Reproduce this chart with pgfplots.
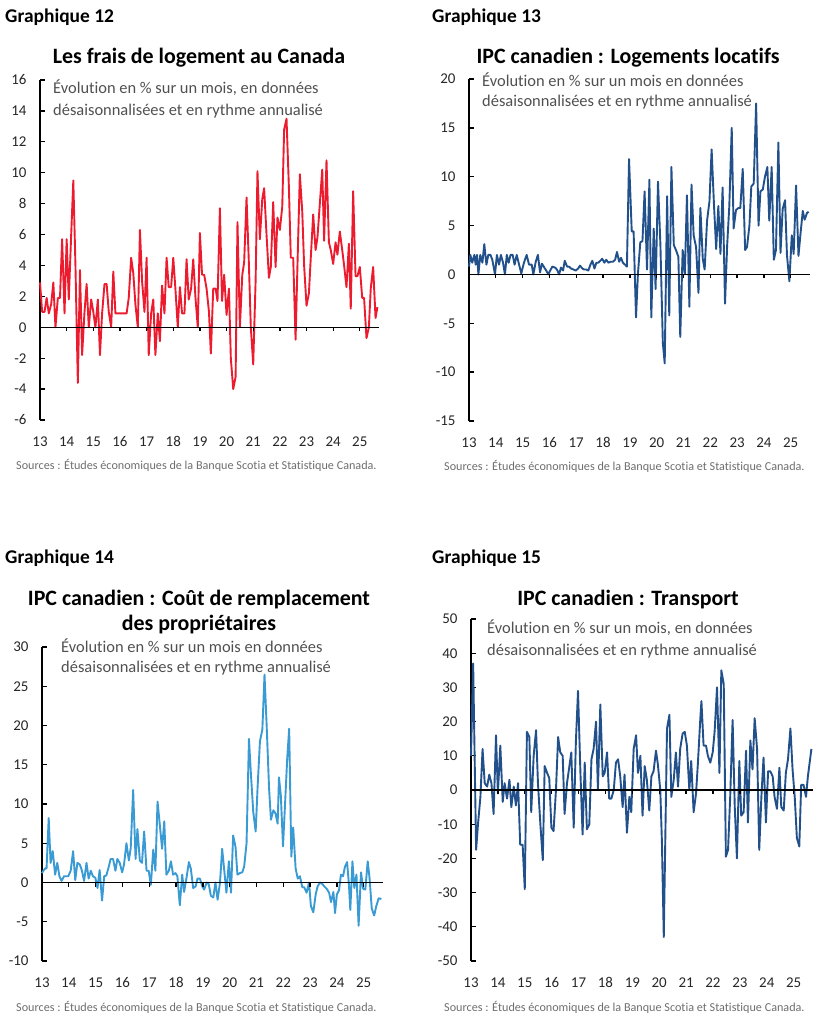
\documentclass[border=0pt]{standalone}
\usepackage{pgfplots}
\pgfplotsset{compat=1.18}
\usepackage{fontspec}
\setmainfont{Carlito}[Ligatures=NoCommon]
\definecolor{sred}{HTML}{EC1C2E}
\definecolor{sdark}{HTML}{22508A}
\definecolor{slight}{HTML}{3A9AD4}
\definecolor{subgray}{HTML}{505050}
\definecolor{srcgray}{HTML}{6E6E6E}
\pgfplotsset{
  panel/.style={
    scale only axis,
    anchor=south west,
    axis lines*=left,
    x axis line style={draw=none},
    y axis line style={line width=1.5bp, black},
    xtick={13,...,25},
    xtick style={draw=none},
    ytick style={line width=1.3bp, black},
    tick align=inside,
    major tick length=5bp,
    /pgf/number format/assume math mode=true,
    ticklabel style={font=\fontsize{15}{16}\selectfont, text=black!85},
    xticklabel style={yshift=-13bp},
    yticklabel style={xshift=-10bp},
    xmin=13, xmax=25.72,
    enlargelimits=false,
    no marks,
    clip=false,
  },
}
\newcommand{\zeroline}{%
  \draw[black, line width=1.5bp] (axis cs:13,0) -- (axis cs:25.72,0);
  \pgfplotsinvokeforeach{14,15,16,17,18,19,20,21,22,23,24,25}{\draw[black, line width=1.3bp] (axis cs:##1,0) -- ++(0pt,-4bp);}%
}
\newcommand{\gfont}{\fontsize{19.5}{22}\selectfont\bfseries}
\newcommand{\tfont}{\fontsize{22}{26}\selectfont\bfseries}
\newcommand{\sfont}{\fontsize{16.5}{20}\selectfont}
\newcommand{\srcfont}{\fontsize{12.2}{14}\selectfont}
\begin{document}
\begin{tikzpicture}
\path[use as bounding box] (0bp,0bp) rectangle (828bp,-1023bp);
% ---------- Panel 12 ----------
\node[anchor=base west, inner sep=0] at (5bp,-22bp) {\gfont Graphique 12};
\node[anchor=base, inner sep=0] at (199bp,-63bp) {\tfont Les frais de logement au Canada};
\begin{axis}[panel, at={(40bp,-420bp)}, width=339bp, height=340bp,
  ymin=-6, ymax=16, ytick={-6,-4,...,16}]
\addplot[sred, line width=1.9bp, line join=round] coordinates {
(13.00,2.9)(13.08,1.0)(13.17,1.0)(13.25,1.9)(13.33,0.9)(13.42,1.5)(13.50,2.9)(13.58,0)
(13.67,1.9)(13.75,1.9)(13.83,5.7)(13.92,0.9)(14.00,5.7)(14.08,1.8)(14.17,6.0)(14.25,9.5)
(14.33,4.0)(14.42,-3.6)(14.50,3.7)(14.58,-1.8)(14.67,1.0)(14.75,2.8)(14.83,0)(14.92,1.8)
(15.00,1.0)(15.08,0)(15.17,1.8)(15.25,-1.8)(15.33,0.9)(15.42,2.8)(15.50,2.8)(15.58,1.0)
(15.67,0)(15.75,3.6)(15.83,0.9)(15.92,0.9)(16.00,0.9)(16.08,0.9)(16.17,0.9)(16.25,0.9)
(16.33,1.9)(16.42,4.5)(16.50,3.5)(16.58,1.5)(16.67,0)(16.75,6.3)(16.83,3.0)(16.92,1.0)
(17.00,4.5)(17.08,-1.8)(17.17,0.9)(17.25,1.8)(17.33,-1.8)(17.42,0.9)(17.50,-0.9)(17.58,2.7)
(17.67,0.9)(17.75,4.5)(17.83,2.6)(17.92,2.6)(18.00,4.5)(18.08,2.5)(18.17,0)(18.25,2.6)
(18.33,0.9)(18.42,0.9)(18.50,4.4)(18.58,1.8)(18.67,2.5)(18.75,4.4)(18.83,2.0)(18.92,0)
(19.00,6.1)(19.08,3.4)(19.16,3.4)(19.25,2.5)(19.34,1.0)(19.41,-1.7)(19.50,2.5)(19.59,2.5)
(19.66,1.7)(19.75,7.7)(19.83,1.7)(19.91,3.4)(20.00,0.8)(20.09,2.5)(20.16,-2.0)(20.25,-4.0)
(20.34,-3.2)(20.41,6.8)(20.50,0)(20.59,3.4)(20.66,4.2)(20.75,8.4)(20.84,4.0)(20.91,0)
(21.00,-2.4)(21.09,3.0)(21.16,10.1)(21.25,5.7)(21.34,8.3)(21.41,9.0)(21.50,6.0)(21.59,3.2)
(21.66,3.9)(21.75,8.1)(21.84,3.9)(21.91,7.1)(22.00,6.3)(22.09,7.8)(22.16,12.8)(22.25,13.5)
(22.34,9.0)(22.41,4.5)(22.50,4.5)(22.59,-0.8)(22.66,4.0)(22.75,9.9)(22.84,7.5)(22.91,4.0)
(23.00,1.4)(23.09,2.2)(23.16,4.5)(23.25,7.3)(23.34,5.0)(23.41,5.8)(23.50,8.0)(23.59,10.2)
(23.66,5.6)(23.75,10.8)(23.84,5.5)(23.91,5.0)(24.00,4.1)(24.09,5.5)(24.16,4.7)(24.25,6.2)
(24.34,5.0)(24.41,4.0)(24.50,2.6)(24.59,5.4)(24.66,1.2)(24.75,8.8)(24.84,3.3)(24.91,3.3)
(25.00,3.9)(25.09,1.9)(25.16,1.9)(25.25,-0.7)(25.34,0)(25.41,2.5)(25.50,3.9)(25.59,0.6)
(25.66,1.3)};
\zeroline
\end{axis}
\node[anchor=base west, inner sep=0, text=subgray] at (53bp,-93bp) {\sfont Évolution en \% sur un mois, en données};
\node[anchor=base west, inner sep=0, text=subgray] at (53bp,-115bp) {\sfont désaisonnalisées et en rythme annualisé};
\node[anchor=base west, inner sep=0, text=srcgray] at (16bp,-469bp) {\srcfont Sources : Études économiques de la Banque Scotia et Statistique Canada.};
% ---------- Panel 13 ----------
\node[anchor=base west, inner sep=0] at (432bp,-22bp) {\gfont Graphique 13};
\node[anchor=base, inner sep=0] at (628bp,-63bp) {\tfont IPC canadien : Logements locatifs};
\begin{axis}[panel, at={(469bp,-421bp)}, width=341bp, height=342bp,
  ymin=-15, ymax=20, ytick={-15,-10,...,20}]
\addplot[sdark, line width=1.9bp, line join=round] coordinates {
(13.00,0.8)(13.05,2.0)(13.12,1.2)(13.20,2.0)(13.25,1.0)(13.30,2.0)(13.35,0)(13.42,2.0)
(13.50,1.2)(13.57,3.1)(13.65,1.0)(13.72,2.0)(13.80,2.0)(13.87,1.5)(13.97,0)(14.04,2.0)
(14.12,1.0)(14.19,2.0)(14.27,1.2)(14.34,0)(14.41,2.0)(14.48,1.2)(14.55,2.0)(14.63,2.0)
(14.70,1.0)(14.78,2.0)(14.85,1.2)(14.95,0.1)(15.05,1.2)(15.15,2.0)(15.24,1.0)(15.34,1.0)
(15.40,0)(15.49,1.3)(15.57,2.0)(15.65,0.2)(15.72,1.1)(15.81,0.7)(15.88,0.4)(15.96,0)
(16.03,0.4)(16.11,0.8)(16.21,0.7)(16.28,0.5)(16.36,0)(16.43,0.7)(16.51,0.4)(16.57,1.4)
(16.66,0.8)(16.73,0.8)(16.81,0.6)(16.90,0.5)(16.98,0.4)(17.07,0.6)(17.14,0.9)(17.23,0.6)
(17.30,0.5)(17.38,0.5)(17.45,0.4)(17.53,1.0)(17.60,1.4)(17.68,0.6)(17.75,1.2)(17.82,1.2)
(17.90,1.4)(17.97,1.6)(18.05,1.2)(18.12,1.5)(18.20,1.2)(18.28,1.3)(18.37,1.3)(18.45,1.5)
(18.52,2.3)(18.60,1.3)(18.67,1.7)(18.74,1.2)(18.82,1.0)(18.89,0.8)(18.97,11.8)(19.07,4.4)
(19.14,4.4)(19.23,-4.4)(19.30,0)(19.39,3.3)(19.47,3.4)(19.55,8.5)(19.64,0.5)(19.73,9.7)
(19.80,-4.4)(19.89,4.7)(19.96,-1.5)(20.05,9.5)(20.14,3.0)(20.23,-7.0)(20.30,-9.1)(20.39,8.0)
(20.47,-4.2)(20.55,11.0)(20.64,3.0)(20.72,2.5)(20.81,1.8)(20.88,-6.4)(20.97,2.5)(21.05,0)
(21.13,8.1)(21.22,-3.3)(21.30,9.2)(21.38,4.0)(21.47,2.8)(21.56,-1.9)(21.63,6.8)(21.72,1.6)
(21.79,0.5)(21.88,5.5)(21.97,7.5)(22.05,12.8)(22.14,7.0)(22.22,2.6)(22.30,7.0)(22.38,2.1)
(22.46,8.9)(22.55,-3.0)(22.63,3.0)(22.71,7.0)(22.80,15.0)(22.87,4.7)(22.96,6.6)(23.05,6.8)
(23.12,6.8)(23.21,10.8)(23.30,2.5)(23.37,2.8)(23.46,5.0)(23.53,9.0)(23.62,9.3)(23.71,17.5)
(23.80,5.0)(23.87,8.5)(23.96,8.7)(24.04,10.0)(24.13,11.0)(24.20,5.5)(24.29,11.0)(24.37,1.5)
(24.45,2.5)(24.54,13.5)(24.62,2.2)(24.70,6.7)(24.79,7.6)(24.86,2.0)(24.95,-0.7)(25.04,4.0)
(25.11,2.1)(25.20,9.1)(25.29,1.9)(25.36,4.0)(25.45,6.5)(25.52,5.6)(25.61,6.3)(25.67,6.4)};
\zeroline
\end{axis}
\node[anchor=base west, inner sep=0, text=subgray] at (482bp,-86bp) {\sfont Évolution en \% sur un mois en données};
\node[anchor=base west, inner sep=0, text=subgray] at (482bp,-106bp) {\sfont désaisonnalisées et en rythme annualisé};
\node[anchor=base west, inner sep=0, text=srcgray] at (444bp,-470bp) {\srcfont Sources : Études économiques de la Banque Scotia et Statistique Canada.};
% ---------- Panel 14 ----------
\node[anchor=base west, inner sep=0] at (5bp,-563bp) {\gfont Graphique 14};
\node[anchor=base, inner sep=0] at (199bp,-605bp) {\tfont IPC canadien : Coût de remplacement};
\node[anchor=base, inner sep=0] at (199bp,-630bp) {\tfont des propriétaires};
\begin{axis}[panel, at={(42bp,-961bp)}, width=341bp, height=314bp,
  ymin=-10, ymax=30, ytick={-10,-5,...,30}]
\addplot[slight, line width=1.9bp, line join=round] coordinates {
(13.00,1.2)(13.05,1.5)(13.12,1.8)(13.17,1.8)(13.25,8.2)(13.32,2.5)(13.40,4.0)(13.49,1.0)
(13.57,2.5)(13.65,0.8)(13.73,0.2)(13.82,0.8)(13.90,0.8)(13.98,0.8)(14.07,1.5)(14.16,4.0)
(14.24,0.3)(14.32,2.5)(14.41,2.3)(14.49,1.5)(14.57,0.2)(14.66,2.5)(14.74,0.5)(14.82,1.5)
(14.90,0.8)(14.99,0.6)(15.07,-0.7)(15.15,1.6)(15.24,-2.3)(15.32,0.8)(15.40,0.9)(15.49,2.0)
(15.56,3.0)(15.65,3.0)(15.74,1.5)(15.81,3.0)(15.90,2.5)(15.99,1.3)(16.06,2.3)(16.15,5.0)
(16.24,2.8)(16.31,4.4)(16.40,11.8)(16.49,3.0)(16.56,6.8)(16.65,2.8)(16.73,2.5)(16.81,6.5)
(16.90,1.5)(16.98,1.5)(17.06,-0.3)(17.15,4.2)(17.23,1.5)(17.31,10.3)(17.39,7.5)(17.48,4.3)
(17.56,7.8)(17.64,1.0)(17.73,1.5)(17.81,2.7)(17.89,1.0)(17.98,1.2)(18.05,0.8)(18.14,-2.9)
(18.23,1.0)(18.30,-1.2)(18.39,0.6)(18.48,2.6)(18.55,1.8)(18.64,-0.7)(18.73,-0.5)(18.80,0.5)
(18.89,0.5)(18.98,-0.5)(19.05,-0.9)(19.14,0)(19.22,-0.2)(19.30,-1.7)(19.39,-1.9)(19.47,0)
(19.55,-2.2)(19.64,0)(19.72,4.3)(19.80,1.5)(19.88,-1.3)(19.97,2.7)(20.05,-1.3)(20.13,6.0)
(20.22,4.5)(20.29,1.0)(20.38,1.2)(20.47,1.3)(20.54,2.0)(20.63,5.0)(20.72,18.3)(20.79,14.0)
(20.88,9.0)(20.97,6.5)(21.04,12.0)(21.13,18.0)(21.22,19.5)(21.30,26.5)(21.38,20.0)(21.47,12.0)
(21.54,8.0)(21.63,9.2)(21.71,8.8)(21.79,7.5)(21.84,13.4)(21.91,11.0)(21.99,4.6)(22.08,11.0)
(22.15,16.0)(22.22,19.6)(22.30,3.3)(22.37,7.0)(22.46,1.8)(22.54,0.5)(22.62,0.8)(22.71,-0.6)
(22.78,-0.6)(22.87,-1.3)(22.96,0)(23.03,-3.0)(23.12,-3.8)(23.21,-1.5)(23.28,-0.5)(23.37,0)
(23.46,-0.2)(23.53,-0.5)(23.62,-0.8)(23.71,-1.3)(23.78,-2.5)(23.87,-1.2)(23.93,-3.9)(24.00,-1.5)
(24.08,-1.0)(24.15,1.0)(24.23,0.8)(24.30,2.0)(24.38,2.6)(24.45,-0.3)(24.50,-3.5)(24.58,2.7)
(24.65,-0.7)(24.73,1.0)(24.81,-5.5)(24.90,1.3)(24.98,-0.8)(25.06,-0.9)(25.15,2.7)(25.22,0.5)
(25.30,-3.3)(25.39,-4.2)(25.47,-3.0)(25.56,-2.0)(25.66,-2.1)};
\zeroline
\end{axis}
\node[anchor=base west, inner sep=0, text=subgray] at (61bp,-652bp) {\sfont Évolution en \% sur un mois en données};
\node[anchor=base west, inner sep=0, text=subgray] at (61bp,-672bp) {\sfont désaisonnalisées et en rythme annualisé};
\node[anchor=base west, inner sep=0, text=srcgray] at (16bp,-1011bp) {\srcfont Sources : Études économiques de la Banque Scotia et Statistique Canada.};
% ---------- Panel 15 ----------
\node[anchor=base west, inner sep=0] at (432bp,-563bp) {\gfont Graphique 15};
\node[anchor=base, inner sep=0] at (628bp,-605bp) {\tfont IPC canadien : Transport};
\begin{axis}[panel, at={(471bp,-961bp)}, width=342bp, height=342bp,
  ymin=-50, ymax=50, ytick={-50,-40,...,50}]
\addplot[sdark, line width=1.9bp, line join=round] coordinates {
(13.00,10)(13.08,37)(13.19,-17.5)(13.26,-10)(13.35,-2)(13.43,12)(13.51,2)(13.60,1)
(13.68,4.5)(13.76,2)(13.84,-7)(13.93,16)(14.00,-1)(14.09,13)(14.18,-3.5)(14.25,2)
(14.34,-2.5)(14.43,3)(14.50,-5)(14.59,1)(14.67,-4.5)(14.75,2)(14.83,-16)(14.92,-16)
(15.00,-29)(15.08,17)(15.17,15.5)(15.24,-6.5)(15.33,10)(15.42,17.5)(15.49,2)(15.58,-10)
(15.67,-20.5)(15.74,7)(15.83,5)(15.91,3.5)(15.99,-11)(16.07,-12)(16.16,0)(16.24,15.5)
(16.32,11)(16.41,10)(16.48,-7)(16.57,2)(16.66,7)(16.73,11)(16.82,-11)(16.90,14)
(16.98,29)(17.07,5)(17.15,-13)(17.23,8)(17.31,-11.5)(17.40,-10)(17.48,9)(17.56,12)
(17.65,20)(17.72,0)(17.81,25)(17.90,4)(17.97,5)(18.06,11)(18.14,-2.5)(18.22,-2.5)
(18.31,0)(18.39,8)(18.47,9)(18.55,4)(18.64,-5)(18.71,4.5)(18.80,-12.5)(18.89,-2)
(18.96,-6.5)(19.05,12)(19.14,16)(19.21,5)(19.30,10)(19.38,-7.5)(19.46,7)(19.54,3)
(19.63,-6)(19.71,4)(19.79,5.5)(19.88,11.5)(19.95,7.5)(20.04,0)(20.10,-15)(20.17,-43)
(20.29,18)(20.38,22)(20.45,-2)(20.54,3)(20.62,11)(20.70,1)(20.78,12)(20.87,16.5)
(20.95,17)(21.03,13)(21.12,0)(21.19,8.5)(21.28,-6.5)(21.37,-1)(21.44,8)(21.53,21)
(21.57,26)(21.65,13)(21.74,13)(21.81,10)(21.90,8)(21.99,11)(22.06,17)(22.15,30)
(22.24,5)(22.31,35)(22.40,31)(22.48,-19.5)(22.56,-17.5)(22.64,-2)(22.73,20.5)(22.81,-5)
(22.89,-20)(22.98,8.5)(23.05,-7.5)(23.14,-6.5)(23.23,11.5)(23.30,-9.5)(23.39,14.5)(23.47,6)
(23.55,21)(23.64,12)(23.72,-17.5)(23.80,-2)(23.88,9.5)(23.97,-9.5)(24.05,5.5)(24.13,5.5)
(24.22,4)(24.29,-2)(24.38,-5.5)(24.47,6.5)(24.54,-5)(24.63,-6)(24.71,5)(24.79,9)
(24.88,18)(24.96,6)(25.04,-2)(25.12,-14)(25.21,-16.5)(25.28,1.5)(25.37,1.5)(25.46,-2)
(25.53,4)(25.66,12)};
\zeroline
\end{axis}
\node[anchor=base west, inner sep=0, text=subgray] at (487bp,-633bp) {\sfont Évolution en \% sur un mois, en données};
\node[anchor=base west, inner sep=0, text=subgray] at (487bp,-655bp) {\sfont désaisonnalisées et en rythme annualisé};
\node[anchor=base west, inner sep=0, text=srcgray] at (444bp,-1011bp) {\srcfont Sources : Études économiques de la Banque Scotia et Statistique Canada.};
\end{tikzpicture}
\end{document}
